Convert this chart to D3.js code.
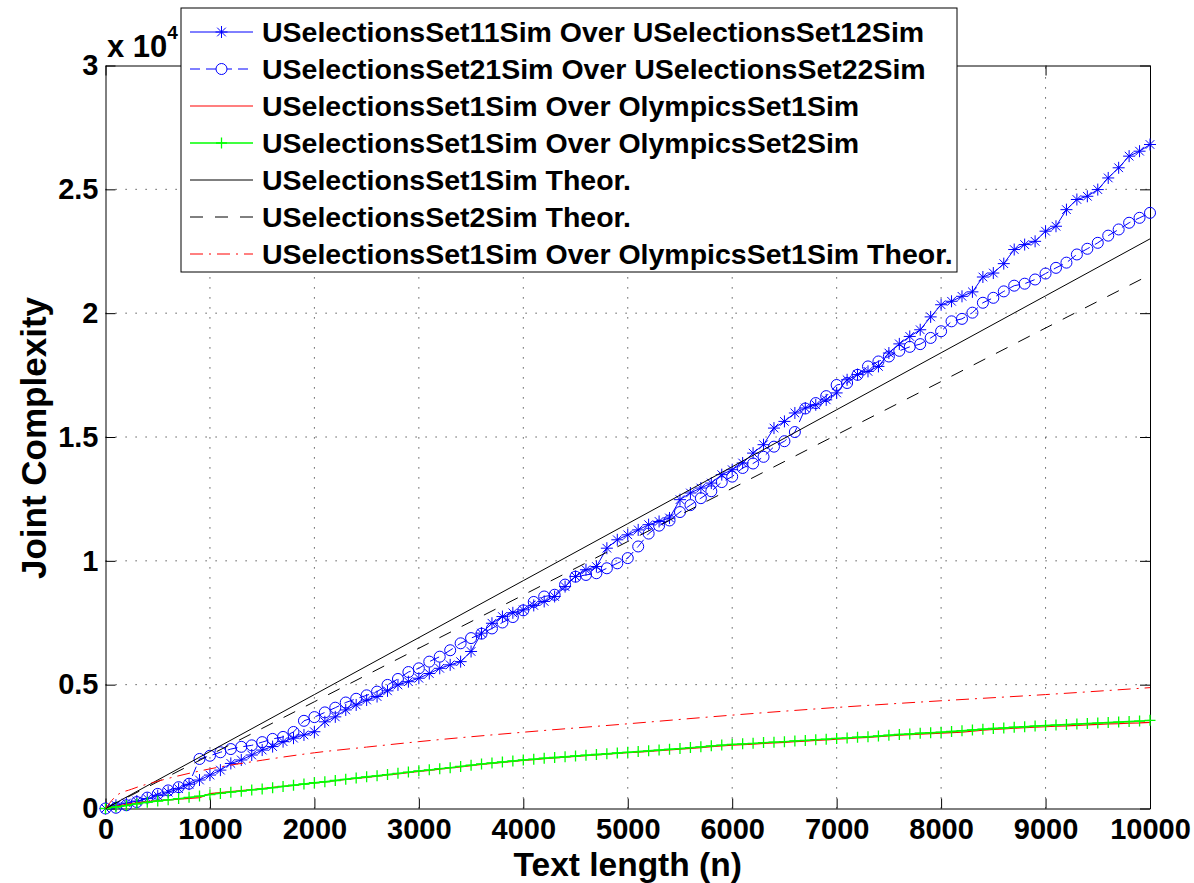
<!DOCTYPE html>
<html><head><meta charset="utf-8">
<script src="https://cdn.jsdelivr.net/npm/d3@7"></script>
<style>
body{margin:0;background:#fff}
svg{display:block}
text{font-family:"Liberation Sans",Arial,Helvetica,sans-serif;font-weight:bold;fill:#000}
</style>
</head><body>
<svg id="chart" width="1194" height="883"></svg>
<script>
// ---------- data ----------
const textLength = [0,100,200,300,400,500,600,700,800,900,
 1000,1100,1200,1300,1400,1500,1600,1700,1800,1900,
 2000,2100,2200,2300,2400,2500,2600,2700,2800,2900,
 3000,3100,3200,3300,3400,3500,3600,3700,3800,3900,
 4000,4100,4200,4300,4400,4500,4600,4700,4800,4900,
 5000,5100,5200,5300,5400,5500,5600,5700,5800,5900,
 6000,6100,6200,6300,6400,6500,6600,6700,6800,6900,
 7000,7100,7200,7300,7400,7500,7600,7700,7800,7900,
 8000,8100,8200,8300,8400,8500,8600,8700,8800,8900,
 9000,9100,9200,9300,9400,9500,9600,9700,9800,9900,10000];

const set11OverSet12 = [0,130,220,300,400,520,660,800,980,1150,
 1350,1550,1820,1960,2160,2360,2500,2700,2840,2970,
 3100,3500,3700,3980,4180,4380,4520,4750,4990,5120,
 5260,5450,5660,5800,5930,6340,7080,7480,7750,7900,
 8020,8200,8360,8560,8960,9370,9640,9770,10510,10850,
 11050,11250,11460,11590,11730,12470,12740,12940,13140,13480,
 13680,13950,14350,14690,15360,15630,15970,16170,16300,16500,
 16780,17310,17520,17650,17850,18390,18760,19060,19330,19850,
 20340,20480,20680,20860,21460,21620,22000,22570,22770,22900,
 23310,23510,24180,24590,24720,24990,25460,25870,26340,26540,26810];

const set21OverSet22 = [0,30,130,260,440,590,730,860,1000,2000,
 2130,2270,2400,2490,2550,2680,2810,2890,3090,3540,
 3690,3880,4070,4280,4430,4570,4720,4990,5230,5510,
 5660,5930,6130,6390,6670,6880,7060,7270,7510,7730,
 8000,8340,8560,8630,9040,9360,9430,9500,9700,9900,
 10110,10580,11100,11420,11630,11970,12250,12530,12810,13180,
 13400,13750,13930,14200,14610,14830,15200,16150,16370,16650,
 17100,17180,17510,17850,18050,18250,18480,18640,18750,19000,
 19270,19670,19770,20020,20420,20620,20880,21110,21190,21360,
 21600,21830,22040,22370,22600,22840,23130,23380,23650,23850,24050];

const set1OverOlympics1 = [0,90,170,230,280,320,350,380,410,440,
 600,640,680,720,760,800,850,890,930,980,
 1030,1070,1120,1170,1220,1260,1310,1360,1400,1450,
 1500,1540,1590,1640,1680,1730,1780,1820,1860,1900,
 1940,1970,2010,2040,2070,2100,2130,2160,2190,2220,
 2250,2280,2310,2340,2370,2400,2430,2460,2500,2530,
 2560,2580,2600,2630,2650,2670,2700,2720,2750,2770,
 2800,2820,2850,2870,2900,2930,2960,2980,3000,3020,
 3040,3060,3080,3120,3160,3190,3210,3240,3260,3280,
 3300,3320,3340,3360,3380,3400,3420,3430,3450,3460,3480];

const set1OverOlympics2 = [0,60,120,190,250,300,350,400,450,500,
 560,610,660,700,750,790,840,890,940,990,
 1040,1080,1130,1180,1230,1280,1320,1370,1420,1470,
 1520,1560,1610,1650,1700,1750,1800,1840,1880,1920,
 1960,1990,2030,2060,2090,2120,2150,2180,2210,2240,
 2270,2300,2330,2360,2390,2420,2460,2490,2530,2560,
 2590,2610,2630,2660,2680,2700,2730,2750,2780,2800,
 2830,2850,2880,2900,2930,2960,2990,3010,3040,3060,
 3080,3110,3140,3170,3200,3230,3250,3280,3300,3330,
 3350,3370,3390,3410,3430,3450,3470,3490,3510,3530,3560];

const theorN = [0,1000,2000,3000,4000,5000,6000,7000,8000,9000,10000];
const theorSet1 = [0,2300,4600,6900,9200,11500,13800,16100,18400,20700,23000];
const theorSet2 = [0,2160,4310,6470,8620,10780,12930,15090,17240,19400,21550];

const theorOlyN = [0,100,250,500,1000,1500,2000,2500,3000,4000,5000,6000,7000,8000,9000,10000];
const theorOly  = [0,500,780,1100,1600,1950,2250,2480,2700,3080,3420,3770,4080,4350,4600,4880];

const xTicks = [0,1000,2000,3000,4000,5000,6000,7000,8000,9000,10000];
const yTicks = [0,5000,10000,15000,20000,25000,30000];
const yTickLabels = ["0","0.5","1","1.5","2","2.5","3"];

const legendLabels = [
 "USelectionsSet11Sim Over USelectionsSet12Sim",
 "USelectionsSet21Sim Over USelectionsSet22Sim",
 "USelectionsSet1Sim Over OlympicsSet1Sim",
 "USelectionsSet1Sim Over OlympicsSet2Sim",
 "USelectionsSet1Sim Theor.",
 "USelectionsSet2Sim Theor.",
 "USelectionsSet1Sim Over OlympicsSet1Sim Theor."
];

// ---------- layout ----------
const svg = d3.select("#chart");
const L = 105.5, R = 1150, T = 65.5, B = 808.5;
const x = d3.scaleLinear().domain([0,10000]).range([L,R]);
const y = d3.scaleLinear().domain([0,30000]).range([B,T]);

// grid
const grid = svg.append("g").attr("stroke","#333").attr("stroke-width",1)
  .attr("stroke-dasharray","1.2,8.8").attr("fill","none");
xTicks.slice(1,-1).forEach(v=>{
  grid.append("line").attr("x1",x(v)).attr("x2",x(v)).attr("y1",B).attr("y2",T);
});
yTicks.slice(1,-1).forEach(v=>{
  grid.append("line").attr("x1",L).attr("x2",R).attr("y1",y(v)).attr("y2",y(v));
});

// axes
const fmtY = d => yTickLabels[yTicks.indexOf(d)];
const gB = svg.append("g").attr("transform",`translate(0,${B})`)
  .call(d3.axisBottom(x).tickValues(xTicks).tickSize(-10).tickSizeOuter(0).tickPadding(10).tickFormat(d3.format("d")));
const gT = svg.append("g").attr("transform",`translate(0,${T})`)
  .call(d3.axisTop(x).tickValues(xTicks).tickSize(-10).tickSizeOuter(0).tickFormat(""));
const gL = svg.append("g").attr("transform",`translate(${L},0)`)
  .call(d3.axisLeft(y).tickValues(yTicks).tickSize(-10).tickSizeOuter(0).tickPadding(7).tickFormat(fmtY));
const gR = svg.append("g").attr("transform",`translate(${R},0)`)
  .call(d3.axisRight(y).tickValues(yTicks).tickSize(-10).tickSizeOuter(0).tickFormat(""));
[gB,gT,gL,gR].forEach(g=>{
  g.selectAll("path,line").attr("stroke","#000").attr("stroke-width",1);
  g.selectAll("text").style("font-size","29px").style("font-family","'Liberation Sans',Arial,sans-serif").style("font-weight","bold").attr("fill","#000");
});

// series helpers
const lineGen = (xs, ys) => d3.line().x((d,i)=>x(xs[i])).y((d,i)=>y(ys[i]))(ys);
const starPath = (cx,cy,s) => {
  const d = s*0.72;
  return `M${cx-s},${cy}L${cx+s},${cy}M${cx},${cy-s}L${cx},${cy+s}M${cx-d},${cy-d}L${cx+d},${cy+d}M${cx-d},${cy+d}L${cx+d},${cy-d}`;
};
const plusPath = (cx,cy,s) => `M${cx-s},${cy}L${cx+s},${cy}M${cx},${cy-s}L${cx},${cy+s}`;

const S = svg.append("g").attr("fill","none");

// 1 stars
S.append("path").attr("d",lineGen(textLength,set11OverSet12)).attr("stroke","#0000ff").attr("stroke-width",1);
S.append("path").attr("d",set11OverSet12.map((v,i)=>starPath(x(textLength[i]),y(v),6)).join(""))
  .attr("stroke","#0000ff").attr("stroke-width",1);
// 2 circles
S.append("path").attr("d",lineGen(textLength,set21OverSet22)).attr("stroke","#0000ff").attr("stroke-width",1).attr("stroke-dasharray","10,6");
S.selectAll("circle.c2").data(set21OverSet22).join("circle").attr("class","c2")
  .attr("cx",(d,i)=>x(textLength[i])).attr("cy",d=>y(d)).attr("r",5.5)
  .attr("stroke","#0000ff").attr("stroke-width",1).attr("fill","none");
// 3 red
S.append("path").attr("d",lineGen(textLength,set1OverOlympics1)).attr("stroke","#ff0000").attr("stroke-width",1.2);
// 4 green
S.append("path").attr("d",lineGen(textLength,set1OverOlympics2)).attr("stroke","#00ff00").attr("stroke-width",1.4);
S.append("path").attr("d",set1OverOlympics2.map((v,i)=>plusPath(x(textLength[i]),y(v),5.5)).join(""))
  .attr("stroke","#00ff00").attr("stroke-width",1.3);
// 5 black solid
S.append("path").attr("d",lineGen(theorN,theorSet1)).attr("stroke","#000").attr("stroke-width",1);
// 6 black dashed
S.append("path").attr("d",lineGen(theorN,theorSet2)).attr("stroke","#000").attr("stroke-width",1).attr("stroke-dasharray","13,12");
// 7 red dash-dot
S.append("path").attr("d",d3.line().x((d,i)=>x(theorOlyN[i])).y(d=>y(d)).curve(d3.curveMonotoneX)(theorOly))
  .attr("stroke","#ff0000").attr("stroke-width",1).attr("stroke-dasharray","13,6,2,6");

// exponent label
const ex = svg.append("text").attr("x",107).attr("y",57).style("font-size","31px");
ex.append("tspan").text("x 10");
ex.append("tspan").attr("dy",-18).style("font-size","19px").text("4");

// axis labels
svg.append("text").attr("transform","translate(46,438) rotate(-90)").attr("text-anchor","middle")
  .style("font-size","35px").text("Joint Complexity");
svg.append("text").attr("x",627.7).attr("y",875.5).attr("text-anchor","middle")
  .style("font-size","33.5px").text("Text length (n)");

// legend
const lg = svg.append("g");
lg.append("rect").attr("x",181).attr("y",8).attr("width",776).attr("height",264)
  .attr("fill","#fff").attr("stroke","#000").attr("stroke-width",1);
const styles = [
  {c:"#0000ff",dash:null,m:"star",w:1},
  {c:"#0000ff",dash:"10,6",m:"circle",w:1},
  {c:"#ff0000",dash:null,m:null,w:1.2},
  {c:"#00ff00",dash:null,m:"plus",w:1.4},
  {c:"#000000",dash:null,m:null,w:1},
  {c:"#000000",dash:"13,12",m:null,w:1},
  {c:"#ff0000",dash:"13,6,2,6",m:null,w:1}
];
legendLabels.forEach((lab,i)=>{
  const cy = 32 + 37*i;
  const st = styles[i];
  const ln = lg.append("line").attr("x1",190).attr("x2",253).attr("y1",cy).attr("y2",cy)
    .attr("stroke",st.c).attr("stroke-width",st.w);
  if (st.dash) ln.attr("stroke-dasharray",st.dash);
  if (st.m==="star") lg.append("path").attr("d",starPath(221.5,cy,6)).attr("stroke",st.c).attr("fill","none");
  if (st.m==="circle") lg.append("circle").attr("cx",221.5).attr("cy",cy).attr("r",5.5).attr("stroke",st.c).attr("fill","#fff");
  if (st.m==="plus") lg.append("path").attr("d",plusPath(221.5,cy,5.5)).attr("stroke",st.c).attr("stroke-width",1.3).attr("fill","none");
  lg.append("text").attr("x",262).attr("y",cy+10).style("font-size","28.5px").text(lab);
});
</script>
</body></html>
